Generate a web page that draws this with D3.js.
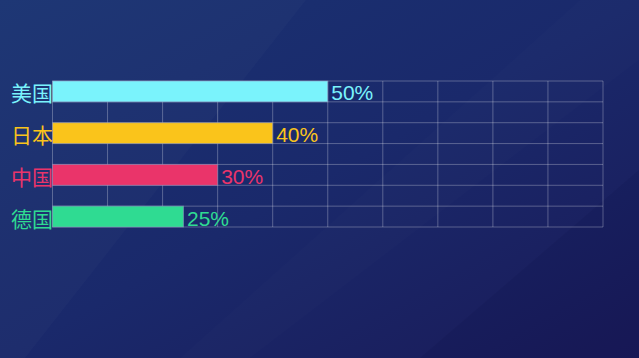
<!DOCTYPE html>
<html>
<head>
<meta charset="utf-8">
<script src="https://cdn.jsdelivr.net/npm/d3@7/dist/d3.min.js"></script>
<style>
html,body{margin:0;padding:0;background:#1a2a6c;}
svg{display:block;}
</style>
</head>
<body>
<svg id="chart" width="639" height="358"></svg>
<script>
const categories = ["美国", "日本", "中国", "德国"];
const barValues = [50, 40, 30, 23.8];
const valueLabels = ["50%", "40%", "30%", "25%"];
const colors = ["#7af3fc", "#fac41b", "#ea346a", "#2fdb92"];
const xTicks = [0, 10, 20, 30, 40, 50, 60, 70, 80, 90, 100];

const W = 639, H = 358;
const svg = d3.select("#chart");
const defs = svg.append("defs");
const grad = defs.append("linearGradient").attr("id", "bg")
  .attr("x1", "0").attr("y1", "0").attr("x2", "1").attr("y2", "1");
grad.append("stop").attr("offset", "0").attr("stop-color", "#1a3373");
grad.append("stop").attr("offset", "0.5").attr("stop-color", "#1a296b");
grad.append("stop").attr("offset", "1").attr("stop-color", "#1a1a58");
svg.append("rect").attr("width", W).attr("height", H).attr("fill", "url(#bg)");
// faint diagonal light bands
svg.append("polygon").attr("points", "0,0 306,0 0,390").attr("fill", "#ffffff").attr("opacity", 0.018);
svg.append("polygon").attr("points", "580,0 639,0 639,60 250,358 180,358").attr("fill", "#ffffff").attr("opacity", 0.012);
svg.append("polygon").attr("points", "639,170 639,358 420,358").attr("fill", "#000030").attr("opacity", 0.08);

const margin = {left: 52.5, right: 36, top: 81, bottom: 131};
const x = d3.scaleLinear().domain([0, 100]).range([margin.left, W - margin.right]);
const y = d3.scaleBand().domain(categories).range([margin.top, H - margin.bottom])
  .paddingInner(0.5).paddingOuter(0);

const gridColor = "rgba(255,255,255,0.28)";
const hLines = [];
categories.forEach((c) => {
  hLines.push(y(c));
  hLines.push(y(c) + y.bandwidth());
});
const g = svg.append("g");
g.selectAll("line.h").data(hLines).join("line")
  .attr("x1", x(0)).attr("x2", x(100))
  .attr("y1", d => d).attr("y2", d => d)
  .attr("stroke", gridColor).attr("stroke-width", 1);
g.selectAll("line.v").data(xTicks).join("line")
  .attr("x1", d => x(d)).attr("x2", d => x(d))
  .attr("y1", y.range()[0]).attr("y2", y.range()[1])
  .attr("stroke", gridColor).attr("stroke-width", 1);

// bars
svg.selectAll("rect.bar").data(categories).join("rect")
  .attr("class", "bar")
  .attr("x", x(0))
  .attr("y", d => y(d))
  .attr("width", (d, i) => x(barValues[i]) - x(0))
  .attr("height", y.bandwidth())
  .attr("fill", (d, i) => colors[i])
  .attr("stroke", "rgba(140,150,190,0.55)")
  .attr("stroke-width", 1);

// category labels
svg.selectAll("text.cat").data(categories).join("text")
  .attr("x", x(0) + 0.5)
  .attr("y", d => y(d) + y.bandwidth() / 2 + 1)
  .attr("text-anchor", "end")
  .attr("dominant-baseline", "central")
  .attr("font-family", "'Noto Sans CJK SC', sans-serif")
  .attr("font-size", 21)
  .attr("fill", (d, i) => colors[i])
  .text(d => d);

// value labels
svg.selectAll("text.val").data(categories).join("text")
  .attr("x", (d, i) => x(barValues[i]) + 3.5)
  .attr("y", d => y(d) + y.bandwidth() / 2 + 1.5)
  .attr("text-anchor", "start")
  .attr("dominant-baseline", "central")
  .attr("font-family", "'Liberation Sans', Arial, sans-serif")
  .attr("font-size", 21)
  .attr("fill", (d, i) => colors[i])
  .text((d, i) => valueLabels[i]);
</script>
</body>
</html>
